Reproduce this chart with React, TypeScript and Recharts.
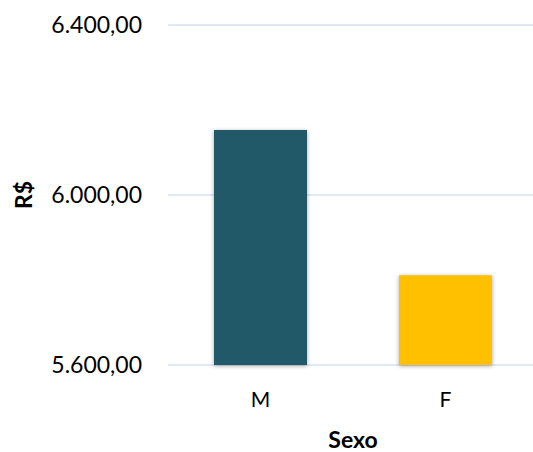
import { BarChart, Bar, XAxis, YAxis, CartesianGrid, Cell } from 'recharts';

// Salário médio por sexo
const categories = ['M', 'F'];
const values = [6153, 5811];
const barColors = ['#215968', '#FFC000'];
const yTicks = [5600, 6000, 6400];

const chartData = categories.map((sexo, i) => ({ sexo, valor: values[i] }));

function formatBRL(value: number) {
  const [int, dec] = value.toFixed(2).split('.');
  return `${int.replace(/\B(?=(\d{3})+(?!\d))/g, '.')},${dec}`;
}

const font = 'Lato, "Open Sans", sans-serif';

export default function App() {
  return (
    <div style={{ position: 'absolute', left: 0, top: 0, width: 533, height: 452, background: '#fff' }}>
      <BarChart
        width={533}
        height={452}
        data={chartData}
        margin={{ top: 25, right: -5, bottom: 0, left: 0 }}
      >
        <CartesianGrid vertical={false} stroke="#D5E0F2" strokeWidth={1.5} />
        <XAxis
          dataKey="sexo"
          height={87}
          axisLine={false}
          tickLine={false}
          tickMargin={21}
          tick={{ fill: '#000', fontSize: 21, fontFamily: font }}
          label={{
            value: 'Sexo',
            position: 'insideBottom',
            offset: 4,
            style: { fill: '#000', fontSize: 23, fontWeight: 700, fontFamily: font },
          }}
        />
        <YAxis
          width={168}
          domain={[5600, 6400]}
          ticks={yTicks}
          axisLine={false}
          tickLine={false}
          tickMargin={20}
          tickFormatter={formatBRL}
          tick={{ fill: '#000', fontSize: 23, fontFamily: font }}
          label={{
            value: 'R$',
            angle: -90,
            position: 'insideLeft',
            offset: 24,
            style: { fill: '#000', fontSize: 23, fontWeight: 700, fontFamily: font, textAnchor: 'middle' },
          }}
        />
        <Bar
          dataKey="valor"
          barSize={93}
          isAnimationActive={false}
          style={{ filter: 'drop-shadow(0px 1px 2px rgba(0,0,0,0.35))' }}
        >
          {chartData.map((d, i) => (
            <Cell key={d.sexo} fill={barColors[i]} />
          ))}
        </Bar>
      </BarChart>
    </div>
  );
}
